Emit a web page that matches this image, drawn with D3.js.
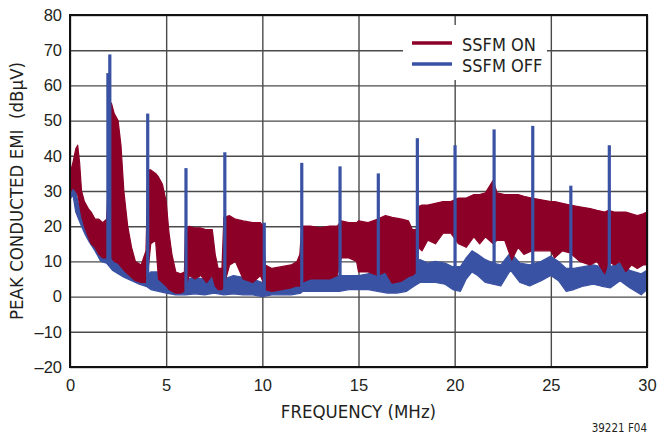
<!DOCTYPE html>
<html>
<head>
<meta charset="utf-8">
<script src="https://cdn.jsdelivr.net/npm/d3@7"></script>
<style>
  html, body { margin: 0; padding: 0; background: #fff; }
  svg { display: block; }
</style>
</head>
<body>
<svg id="chart" width="657" height="435"></svg>
<script>
// ---------------- DATA ----------------
const xTicks = [0, 5, 10, 15, 20, 25, 30];
const yTicks = [-20, -10, 0, 10, 20, 30, 40, 50, 60, 70, 80];
const seriesNames = ["SSFM ON", "SSFM OFF"];

// SSFM ON envelope (MHz, upper dBµV, lower dBµV)
const freqOn = [0.05,0.15,0.3,0.4,0.5,0.6,0.75,0.95,1.1,1.3,1.5,1.7,1.9,1.98,2.05,2.15,2.3,2.5,2.65,2.8,3.0,3.2,3.4,3.7,3.95,
  4.05,4.2,4.45,4.6,4.8,5.0,5.15,5.3,5.5,5.75,5.95,6.0,6.2,6.5,6.8,7.1,7.4,7.55,7.7,7.9,8.0,8.3,8.6,9.0,9.5,9.9,10.05,10.15,
  10.5,11.0,11.5,11.8,11.95,12.05,12.5,13.0,13.5,13.9,14.1,14.5,14.9,15.0,15.5,16.0,16.4,16.75,17.25,17.6,17.8,18.0,18.1,
  18.3,18.6,19.0,19.4,19.8,20.2,20.6,21.0,21.3,21.6,22.0,22.2,22.6,22.97,23.3,23.6,24.0,24.5,25.0,25.2,25.6,26.0,26.5,27.04,
  27.4,27.8,28.0,28.3,28.6,28.9,29.2,29.5,29.8,30.0];
const onHigh = [36,38,42,43,38,30,27,25,24,22,22,21,22,30,55,55,52,50,43,30,20,14,10,9,13,
  36,36,35,34,32,27,18,12,7,6.5,7,19,20,19.5,19.5,19,19,12,8,8,22.5,23,22,21.5,21,21,20,9,
  8,8.5,9,10,12,20,20,19.5,20,20,21.5,21,21,21.5,21,22,23,22.5,22,21.5,19,19,25.5,
  26,26,26.5,27,27,28,28,29,29,29.5,33,29.5,29,29,29,28.5,28,27.5,27,27,26.5,26,25.5,25,
  24.5,24,24.5,24,24,24,23.5,23,23.5,24];
const onLow = [30,31,30,29,26,23,20,17,15,14,12,11,11,12,12,11,10,9.5,8.5,7.5,6.5,5.5,4.5,4,4,
  7,15,16,5,4,3,2,1.5,1,1,1.5,3,6,5,6,4,6,3,2,2,3,9,10,5,4,6,4,2,
  1.5,2,2.5,3,3,4,5,5,5,6,11,11,10,7,7,6,7,3.8,4.4,5.7,6,7,14,
  13,16,15,18,18,15,14,17,15,17,15,16,16,10.4,14,12,13,13,13,11,13,12.4,10,9,
  10,6.5,10,9,10,7.1,9,8,9,9];

// SSFM OFF envelope (MHz, upper dBµV, lower dBµV)
const freqOff = [0.05,0.15,0.3,0.45,0.6,0.8,1.0,1.3,1.6,1.9,2.2,2.5,2.8,3.2,3.6,4.0,4.2,4.6,5.0,5.5,6.0,6.5,7.0,7.5,8.0,8.5,
  9.0,9.5,10.0,10.5,11.0,11.5,12.0,12.1,12.5,13.0,13.5,14.0,14.5,15.0,15.5,16.0,16.5,17.0,17.5,17.9,18.2,18.6,19.0,19.5,
  19.9,20.3,20.6,20.9,21.2,21.6,22.0,22.4,22.9,23.4,23.9,24.5,25.0,25.4,25.8,26.2,26.7,27.2,27.6,28.1,28.6,29.1,29.7,30.0];
const offHigh = [36,34,30,26,24,21,19,16,14,13,13,10,8.5,7,6,6,7,7,6,5,5,5.5,5,5.5,5,6,
  5.5,5,4,3,3,3,3.5,6,6,5.5,5.5,6,6,6,6.5,6.5,6.5,6.5,7.5,10,10.5,9.5,10,9.5,
  8.5,8.5,11,13,12,10.5,9.5,9,12.5,9.5,9,10,11.5,10,8,8,8.5,9,8.5,8.5,9.5,7.5,6.5,7.5];
const offLow = [28,29,24,22,20,17.5,15.5,13,10,9.5,7.5,6.5,5.5,4.5,3.5,2.8,2,1.5,1,0.5,0.5,0.8,0.5,1,0.5,0.8,
  0.5,0.5,0,0.5,0.5,0.5,1,1.5,1.5,1.5,1.5,1.5,2,2,2,1.5,1,1,1.5,3,4,4,4,3.5,
  2,1.5,5,7,6,4,3.5,3,7.5,4,3,4.5,6,4.5,1.5,2,3,3.5,3,2.5,4.5,2.5,0.5,2];

// SSFM OFF harmonic spikes (MHz, peak dBµV, base dBµV)
const spikeFreq = [1.97, 2.07, 4.04, 6.03, 8.05, 10.1, 12.05, 14.04, 16.03, 18.06, 20.02, 22.05, 24.06, 26.04, 28.04];
const spikeTop  = [63.5, 68.8, 52, 36.5, 41, 21, 38, 37, 35, 45, 43, 47.5, 48.5, 31.5, 43];
const spikeBase = [10, 9, 3, 1, 1, 1, 2, 2, 2, 4, 2, 4, 4, 2, 3];

// ---------------- DRAWING ----------------
const RED = "#8c0028", BLUE = "#3a52a3";
const svg = d3.select("#chart");
const L = 70, R = 647, T = 15, B = 367;
const x = d3.scaleLinear().domain([0, 30]).range([L, R]);
const y = d3.scaleLinear().domain([-20, 80]).range([B, T]);
const tickFont = "'Liberation Sans', Arial, sans-serif";
const narrowFont = "'Liberation Sans Narrow', 'DejaVu Sans Condensed', 'Liberation Sans', sans-serif";

// grid
const grid = svg.append("g");
grid.append("g").attr("transform", `translate(${L},0)`)
  .call(d3.axisLeft(y).tickValues(yTicks).tickSize(-(R - L)).tickFormat(""))
  .call(g => g.select(".domain").remove());
grid.append("g").attr("transform", `translate(0,${B})`)
  .call(d3.axisBottom(x).tickValues(xTicks).tickSize(-(B - T)).tickFormat(""))
  .call(g => g.select(".domain").remove());
grid.selectAll("line").attr("stroke", "#4a4a4a").attr("stroke-width", 1.4);

// legend background (covers grid)
const leg = svg.append("g");
leg.append("rect").attr("x", 403).attr("y", 25).attr("width", 144).attr("height", 55).attr("fill", "#fff");

// bands
const offData = freqOff.map((f, i) => ({ f, hi: offHigh[i], lo: offLow[i] }));
const onData = freqOn.map((f, i) => ({ f, hi: onHigh[i], lo: onLow[i] }));
const area = d3.area().x(d => x(d.f)).y0(d => y(d.lo)).y1(d => y(d.hi)).curve(d3.curveLinear);

svg.append("path").datum(offData).attr("d", area)
  .attr("fill", BLUE).attr("stroke", BLUE).attr("stroke-width", 1.2).attr("stroke-linejoin", "round");
svg.append("path").datum(onData).attr("d", area)
  .attr("fill", RED).attr("stroke", RED).attr("stroke-width", 1.2).attr("stroke-linejoin", "round");

// spikes
svg.append("g").selectAll("line").data(spikeFreq).join("line")
  .attr("x1", d => x(d)).attr("x2", d => x(d))
  .attr("y1", (d, i) => y(spikeTop[i])).attr("y2", (d, i) => y(spikeBase[i]))
  .attr("stroke", BLUE).attr("stroke-width", 3.2);

// frame
svg.append("rect").attr("x", L).attr("y", T).attr("width", R - L).attr("height", B - T)
  .attr("fill", "none").attr("stroke", "#111").attr("stroke-width", 2);

// axes labels
const yAx = svg.append("g").attr("transform", `translate(${L},0)`)
  .call(d3.axisLeft(y).tickValues(yTicks).tickSize(0).tickPadding(8)
    .tickFormat(d => d < 0 ? "\u2013" + Math.abs(d) : String(d)));
yAx.select(".domain").remove();
yAx.selectAll("text").attr("font-family", tickFont).attr("font-size", 16.5).attr("fill", "#231f20");

const xAx = svg.append("g").attr("transform", `translate(0,${B})`)
  .call(d3.axisBottom(x).tickValues(xTicks).tickSize(0).tickPadding(12).tickFormat(d => String(d)));
xAx.select(".domain").remove();
xAx.selectAll("text").attr("font-family", tickFont).attr("font-size", 16.5).attr("fill", "#231f20");

// titles
svg.append("text").attr("x", (L + R) / 2).attr("y", 418).attr("text-anchor", "middle")
  .attr("font-family", narrowFont).attr("font-size", 18.5).attr("fill", "#231f20")
  .text("FREQUENCY (MHz)");
svg.append("text").attr("transform", `translate(23,${(T + B) / 2}) rotate(-90)`).attr("text-anchor", "middle")
  .attr("font-family", narrowFont).attr("font-size", 18.5).attr("fill", "#231f20")
  .attr("xml:space", "preserve").style("white-space", "pre")
  .text("PEAK CONDUCTED EMI  (dB\u03bcV)");
svg.append("text").attr("x", 647).attr("y", 432).attr("text-anchor", "end")
  .attr("font-family", narrowFont).attr("font-size", 11.5).attr("fill", "#231f20")
  .text("39221 F04");

// legend
const legColors = [RED, BLUE];
seriesNames.forEach((name, i) => {
  const ly = 43 + i * 21;
  leg.append("line").attr("x1", 412).attr("x2", 452).attr("y1", ly).attr("y2", ly)
    .attr("stroke", legColors[i]).attr("stroke-width", 3.5);
  leg.append("text").attr("x", 462).attr("y", ly + 7.5)
    .attr("font-family", narrowFont).attr("font-size", 18).attr("fill", "#231f20").text(name);
});
</script>
</body>
</html>
